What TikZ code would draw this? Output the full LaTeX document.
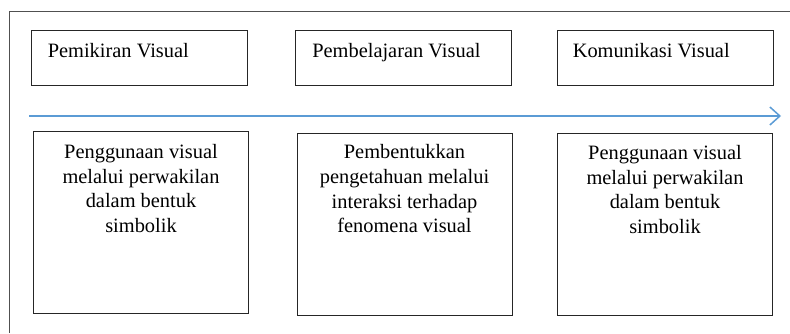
\documentclass[tikz,border=0pt]{standalone}
\usepackage{fontspec}
\setmainfont{Liberation Serif}
\usetikzlibrary{arrows.meta, positioning}

\definecolor{arrowblue}{RGB}{91,155,213}
\definecolor{framegray}{RGB}{80,80,80}

\tikzset{
  stagebox/.style={draw=black!85, line width=0.8pt, inner sep=0pt},
  headbox/.style={stagebox, minimum width=216pt, minimum height=55pt},
  descbox/.style={stagebox, minimum width=215pt, minimum height=182pt},
  headtext/.style={font=\fontsize{20.4}{24.6}\selectfont, inner sep=0pt},
  desctext/.style={headtext, align=center},
}

\begin{document}
\begin{tikzpicture}[x=1pt, y=-1pt]
  \useasboundingbox (0,0) rectangle (790,333);

  % outer frame, cut at the right and bottom
  \draw[framegray, line width=0.8pt] (790,11) -- (9,11) -- (9,333);

  % top row
  \node[headbox] (pemikiran) at (139,57.5) {};
  \node[headbox] (pembelajaran) at (403.5,57.5) {};
  \node[headbox] (komunikasi) at (665,57.5) {};

  \node[headtext, anchor=base west] (pemikirantxt) at ([shift={(17,28)}]pemikiran.north west) {Pemikiran Visual};
  \node[headtext, anchor=base west] (pembelajarantxt) at ([shift={(17,28)}]pembelajaran.north west) {Pembelajaran Visual};
  \node[headtext, anchor=base west] (komunikasitxt) at ([shift={(16,28)}]komunikasi.north west) {Komunikasi Visual};

  % time line
  \coordinate (start) at (29,116);
  \coordinate (end) at (781,116);
  \draw[arrowblue, line width=1.5pt, -{Straight Barb[length=10pt, width=18pt]}] (start) -- (end);

  % bottom row
  \node[descbox] (penggunaan) at (141,222.5) {};
  \node[descbox] (pembentukan) at (404.5,224) {};
  \node[descbox] (simbol) at (665,224.5) {};

  \node[desctext, anchor=north] (penggunaantxt) at ([shift={(0,13)}]penggunaan.north)
    {Penggunaan visual\\melalui perwakilan\\dalam bentuk\\simbolik};
  \node[desctext, anchor=north] (pembentukantxt) at ([shift={(0,12)}]pembentukan.north)
    {Pembentukkan\\pengetahuan melalui\\interaksi terhadap\\fenomena visual};
  \node[desctext, anchor=north] (simboltxt) at ([shift={(0,12)}]simbol.north)
    {Penggunaan visual\\melalui perwakilan\\dalam bentuk\\simbolik};
\end{tikzpicture}
\end{document}
